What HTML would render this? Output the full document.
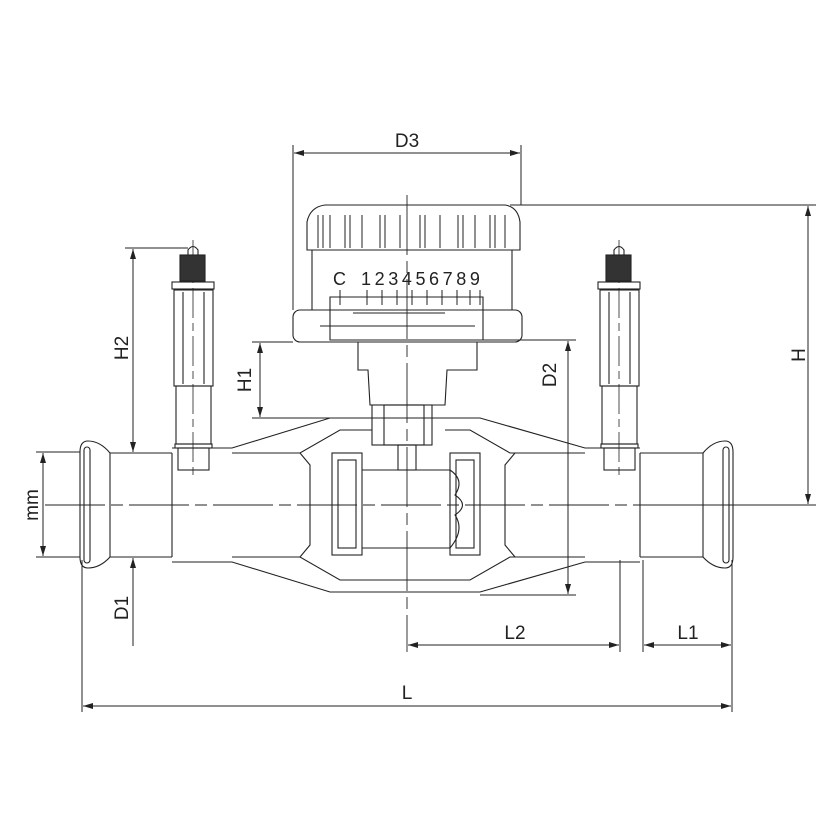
<!DOCTYPE html>
<html><head><style>html,body{margin:0;padding:0;background:#fff}svg{display:block}</style></head>
<body>
<svg width="828" height="828" viewBox="0 0 828 828" xmlns="http://www.w3.org/2000/svg" font-family="Liberation Sans, sans-serif">
<defs>
<marker id="a" viewBox="0 0 10 10" refX="10" refY="5" markerWidth="10" markerHeight="10" orient="auto-start-reverse" markerUnits="userSpaceOnUse"><path d="M0,2 L10,5 L0,8 Z" fill="#222"/></marker>
</defs>
<g fill="none" stroke="#222" stroke-width="1.1">
<line x1="45" y1="505" x2="760" y2="505" stroke-dasharray="60,6,12,6" stroke-width="0.9"/>
<line x1="407" y1="195" x2="407" y2="652" stroke-dasharray="60,6,12,6" stroke-width="0.9"/>
<line x1="193" y1="240" x2="193" y2="480" stroke-dasharray="30,5,8,5" stroke-width="0.8"/>
<line x1="619" y1="240" x2="619" y2="480" stroke-dasharray="30,5,8,5" stroke-width="0.8"/>

<path d="M172,453 L110,453 Q100,441 88,441 Q80,441 80,452 L80,557 Q80,568 88,568 Q100,568 110,557 L172,557"/>
<rect x="84" y="447" width="6" height="116" rx="3"/>
<line x1="110" y1="453" x2="110" y2="557"/>
<line x1="172" y1="453" x2="172" y2="557"/>
<path d="M640,453 L703,453 Q713,441 725,441 Q733,441 733,452 L733,557 Q733,568 725,568 Q713,568 703,557 L640,557"/>
<rect x="723" y="447" width="6" height="116" rx="3"/>
<line x1="703" y1="453" x2="703" y2="557"/>
<line x1="640" y1="453" x2="640" y2="557"/>
<path d="M172,448 L232,448 L330,418 L480,418 L585,448 L640,448"/>
<path d="M172,562 L232,562 L330,592 L480,592 L585,562 L640,562"/>
<path d="M232,453 L300,453 L340,430 L372,430"/>
<path d="M445,430 L470,430 L510,453 L585,453"/>
<path d="M232,557 L300,557 L340,580 L470,580 L510,557 L585,557"/>
<path d="M300,453 L310,465 L310,545 L300,557"/>
<path d="M515,453 L505,465 L505,545 L515,557"/>
<rect x="332" y="453" width="30" height="102"/>
<rect x="338" y="460" width="18" height="88"/>
<rect x="450" y="453" width="30" height="102"/>
<rect x="456" y="460" width="18" height="88"/>
<line x1="362" y1="470" x2="450" y2="470"/>
<line x1="362" y1="548" x2="450" y2="548"/>
<path d="M450,470 Q465,480 455,495 Q470,505 455,515 Q465,530 450,548"/>
<path d="M358,342 L358,370 L368,370 L370,405 L445,405 L447,370 L477,370 L477,342"/>
<rect x="372" y="405" width="60" height="40"/>
<rect x="384" y="405" width="40" height="40"/>
<rect x="398" y="445" width="18" height="25"/>
<path d="M307,250 L307,222 Q310,207 325,205 L505,205 Q518,207 520,222 L520,250 Z"/>
<g stroke-width="1">
<line x1="318" y1="215" x2="318" y2="248"/><line x1="330" y1="215" x2="330" y2="248"/><line x1="345" y1="215" x2="345" y2="248"/><line x1="362" y1="215" x2="362" y2="248"/><line x1="380" y1="215" x2="380" y2="248"/><line x1="400" y1="215" x2="400" y2="248"/><line x1="420" y1="215" x2="420" y2="248"/><line x1="440" y1="215" x2="440" y2="248"/><line x1="458" y1="215" x2="458" y2="248"/><line x1="475" y1="215" x2="475" y2="248"/><line x1="490" y1="215" x2="490" y2="248"/><line x1="505" y1="215" x2="505" y2="248"/>
<line x1="323" y1="215" x2="323" y2="248"/><line x1="350" y1="215" x2="350" y2="248"/><line x1="385" y1="215" x2="385" y2="248"/><line x1="425" y1="215" x2="425" y2="248"/><line x1="463" y1="215" x2="463" y2="248"/><line x1="495" y1="215" x2="495" y2="248"/>
</g>
<line x1="312" y1="250" x2="312" y2="310"/><line x1="512" y1="250" x2="512" y2="310"/>
<rect x="293" y="310" width="229" height="32" rx="7"/>
<path d="M330,297 L483,297 L483,340 L330,340 Z"/>
<line x1="353" y1="313" x2="445" y2="313"/>
<line x1="320" y1="326" x2="475" y2="326"/>
<g stroke-width="1">
<line x1="340" y1="290" x2="340" y2="305"/><line x1="367" y1="290" x2="367" y2="305"/><line x1="382" y1="290" x2="382" y2="305"/><line x1="397" y1="290" x2="397" y2="305"/><line x1="412" y1="290" x2="412" y2="305"/><line x1="427" y1="290" x2="427" y2="305"/><line x1="442" y1="290" x2="442" y2="305"/><line x1="457" y1="290" x2="457" y2="305"/><line x1="470" y1="290" x2="470" y2="305"/><line x1="480" y1="290" x2="480" y2="305"/>
</g>
<g id="tv">
<path d="M188,255 L188,250 Q193,243 198,250 L198,255"/>
<rect x="180" y="255" width="25" height="26" fill="#333"/>
<rect x="172" y="282" width="42" height="7"/>
<rect x="174" y="290" width="39" height="96"/>
<line x1="183" y1="292" x2="183" y2="384"/><line x1="204" y1="292" x2="204" y2="384"/>
<rect x="176" y="386" width="35" height="58"/>
<rect x="175" y="444" width="37" height="4"/>
<rect x="178" y="448" width="31" height="22"/>
</g>
<use href="#tv" transform="translate(426,0)"/>

<g stroke-width="1">
<line x1="293" y1="145" x2="293" y2="310"/><line x1="521" y1="145" x2="521" y2="205"/>
<line x1="294" y1="153" x2="520" y2="153" marker-start="url(#a)" marker-end="url(#a)"/>
<line x1="510" y1="205" x2="816" y2="205"/><line x1="640" y1="505" x2="816" y2="505"/>
<line x1="808" y1="206" x2="808" y2="504" marker-start="url(#a)" marker-end="url(#a)"/>
<line x1="125" y1="248" x2="188" y2="248"/>
<line x1="133" y1="249" x2="133" y2="452" marker-start="url(#a)" marker-end="url(#a)"/>
<line x1="252" y1="342" x2="293" y2="342"/><line x1="252" y1="418" x2="330" y2="418"/>
<line x1="260" y1="343" x2="260" y2="417" marker-start="url(#a)" marker-end="url(#a)"/>
<line x1="480" y1="340" x2="576" y2="340"/><line x1="480" y1="595" x2="576" y2="595"/>
<line x1="568" y1="341" x2="568" y2="594" marker-start="url(#a)" marker-end="url(#a)"/>
<line x1="36" y1="452" x2="80" y2="452"/><line x1="36" y1="557" x2="80" y2="557"/>
<line x1="43" y1="453" x2="43" y2="556" marker-start="url(#a)" marker-end="url(#a)"/>
<line x1="133" y1="558" x2="133" y2="646" marker-start="url(#a)"/>
<line x1="82" y1="560" x2="82" y2="712"/><line x1="732" y1="560" x2="732" y2="712"/>
<line x1="620" y1="560" x2="620" y2="652"/><line x1="643" y1="560" x2="643" y2="652"/>
<line x1="408" y1="645" x2="619" y2="645" marker-start="url(#a)" marker-end="url(#a)"/>
<line x1="644" y1="645" x2="731" y2="645" marker-start="url(#a)" marker-end="url(#a)"/>
<line x1="83" y1="706" x2="731" y2="706" marker-start="url(#a)" marker-end="url(#a)"/>
</g>
</g>
<g fill="#222" font-size="19">
<text x="407" y="147" text-anchor="middle">D3</text>
<text x="515" y="639" text-anchor="middle">L2</text>
<text x="688" y="639" text-anchor="middle">L1</text>
<text x="407" y="699" text-anchor="middle">L</text>
<text transform="translate(805,355) rotate(-90)" text-anchor="middle">H</text>
<text transform="translate(128,348) rotate(-90)" text-anchor="middle">H2</text>
<text transform="translate(251,380) rotate(-90)" text-anchor="middle">H1</text>
<text transform="translate(556,375) rotate(-90)" text-anchor="middle">D2</text>
<text transform="translate(38,505) rotate(-90)" text-anchor="middle">mm</text>
<text transform="translate(128,608) rotate(-90)" text-anchor="middle">D1</text>
<text x="333" y="285" font-size="18">C</text>
<text x="361" y="285" font-size="18" letter-spacing="3.6">123456789</text>
</g>
</svg>
</body></html>
